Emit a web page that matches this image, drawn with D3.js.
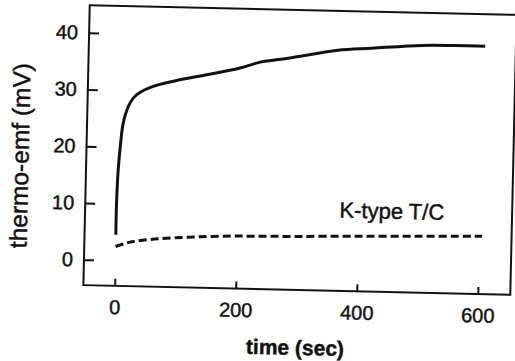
<!DOCTYPE html>
<html lang="en">
<head>
<meta charset="utf-8">
<title>thermo-emf vs time</title>
<script src="https://d3js.org/d3.v7.min.js"></script>
<style>
 body { margin: 0; background: #fff; }
 text { font-family: "Liberation Sans", Arial, sans-serif; fill: #111; stroke: #111; stroke-width: 0.45px; }
</style>
</head>
<body>
<script>
// values
var solidTime = [0, 0, 1.5, 4.5, 8, 16, 24, 35, 56, 90, 128, 199, 232, 278, 360, 416, 499, 553, 603];
var solidEmf  = [4.5, 10.1, 16, 20.7, 24.2, 27.2, 28.7, 29.7, 30.8, 31.8, 32.7, 34.4, 35.5, 36.3, 37.9, 38.4, 39.1, 39.2, 39.2];
var dashTime  = [0, 15, 29, 55, 84, 139, 193, 230, 300, 395, 500, 605];
var dashEmf   = [2.45, 3.0, 3.4, 3.8, 4.1, 4.5, 4.75, 4.8, 4.95, 5.2, 5.45, 5.7];
var xTicks = [0, 200, 400, 600];
var yTicks = [0, 10, 20, 30, 40];
var curveLabel = "K-type T/C";

var W = 515, H = 361;
var margin = {top: 10, right: 1.5, bottom: 71, left: 86.5};
var width = W - margin.left - margin.right;
var height = H - margin.top - margin.bottom;

var x = d3.scaleLinear().domain([-51.7, 653.7]).range([0, width]);
var y = d3.scaleLinear().domain([-4.49, 44.85]).range([height, 0]);

var svg = d3.select("body").append("svg")
    .attr("width", W)
    .attr("height", H);

// the scanned figure is tilted a little
var root = svg.append("g")
    .attr("transform", "rotate(1.3,300,150)");

var g = root.append("g")
    .attr("transform", "translate(" + margin.left + "," + margin.top + ")");

// frame
g.append("rect")
    .attr("x", 0).attr("y", 0)
    .attr("width", width).attr("height", height)
    .attr("fill", "none")
    .attr("stroke", "#111")
    .attr("stroke-width", 2);

var xAxis = g.append("g")
    .attr("transform", "translate(0," + height + ")")
    .call(d3.axisBottom(x).tickValues(xTicks).tickSize(-7).tickPadding(14).tickSizeOuter(0));

var yAxis = g.append("g")
    .call(d3.axisLeft(y).tickValues(yTicks).tickSize(-10).tickPadding(11).tickSizeOuter(0));

[xAxis, yAxis].forEach(function (a) {
    a.select(".domain").remove();
    a.selectAll("line").attr("stroke", "#111").attr("stroke-width", 2);
    a.selectAll("text")
        .attr("font-family", "'Liberation Sans', Arial, sans-serif")
        .attr("font-size", "20px")
        .attr("fill", "#111");
});

var solid = solidTime.map(function (t, i) { return [t, solidEmf[i]]; });
var dashed = dashTime.map(function (t, i) { return [t, dashEmf[i]]; });

var line = d3.line()
    .x(function (d) { return x(d[0]); })
    .y(function (d) { return y(d[1]); })
    .curve(d3.curveCatmullRom.alpha(0.5));

g.append("path")
    .datum(solid)
    .attr("d", line)
    .attr("fill", "none")
    .attr("stroke", "#111")
    .attr("stroke-width", 3);

g.append("path")
    .datum(dashed)
    .attr("d", line)
    .attr("fill", "none")
    .attr("stroke", "#111")
    .attr("stroke-width", 3)
    .attr("stroke-dasharray", "8,4");

// curve label
g.append("text")
    .attr("x", x(455))
    .attr("y", y(9.8))
    .attr("dy", "0.35em")
    .attr("text-anchor", "middle")
    .attr("font-size", "22px")
    .text(curveLabel);

// axis titles
root.append("text")
    .attr("x", 299.5)
    .attr("y", 355)
    .attr("text-anchor", "middle")
    .attr("font-size", "21px")
    .attr("font-weight", "bold")
    .text("time (sec)");

root.append("text")
    .attr("transform", "translate(20.2,162) rotate(-90)")
    .attr("dy", "0.35em")
    .attr("text-anchor", "middle")
    .attr("font-size", "24.5px")
    .text("thermo-emf (mV)");
</script>
</body>
</html>
